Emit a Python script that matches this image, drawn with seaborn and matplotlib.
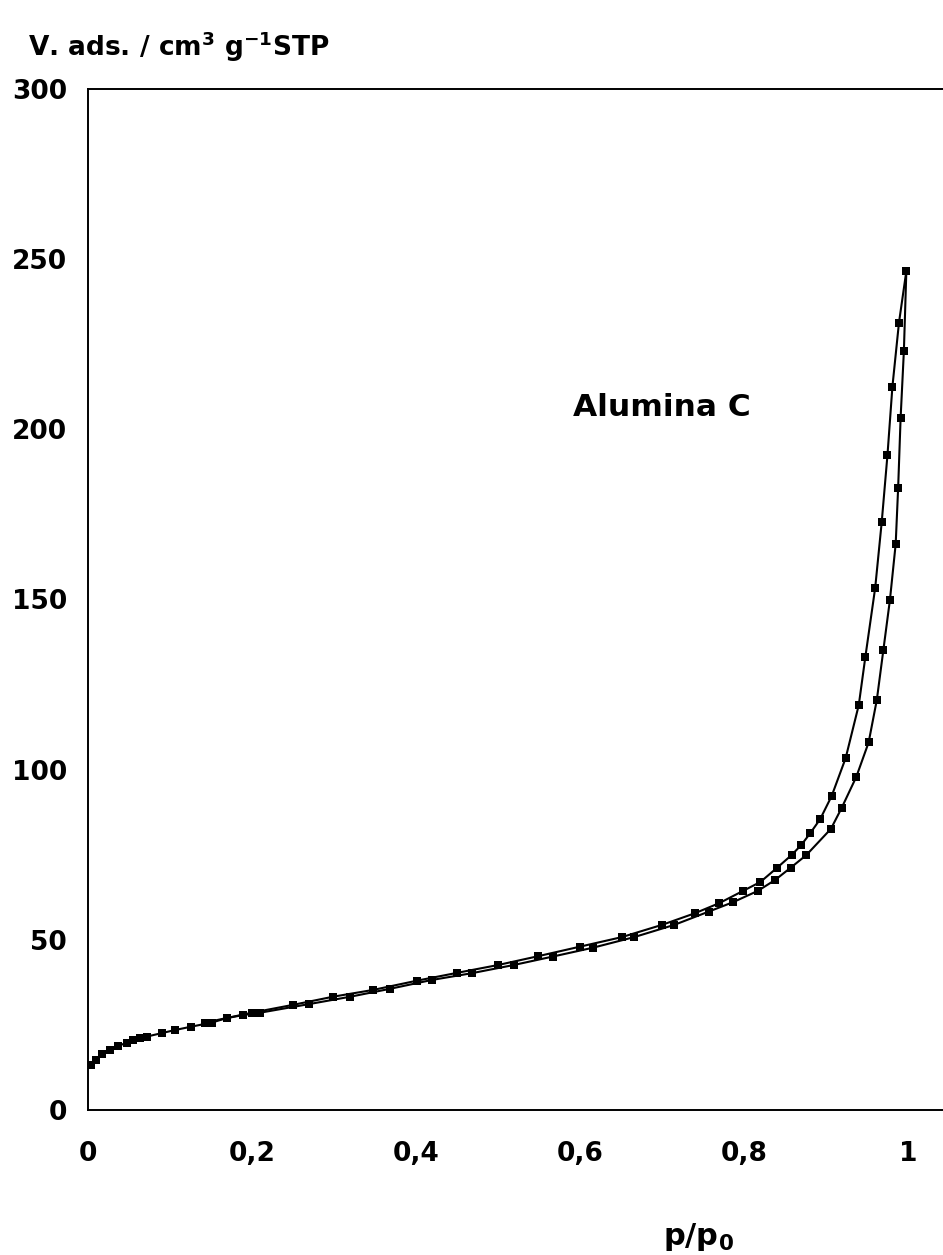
import matplotlib
matplotlib.use("Agg")
import matplotlib.pyplot as plt
import seaborn as sns
import pandas as pd

# Adsorption branch (p/p0, V ads)
ads_p = [0.004, 0.010, 0.017, 0.027, 0.037, 0.047, 0.055, 0.063, 0.072, 0.090,
         0.106, 0.126, 0.151, 0.169, 0.189, 0.210, 0.269, 0.320, 0.368, 0.419,
         0.468, 0.519, 0.567, 0.616, 0.666, 0.715, 0.757, 0.787, 0.817, 0.838,
         0.857, 0.876, 0.906, 0.919, 0.937, 0.952, 0.962, 0.970, 0.978, 0.985,
         0.988, 0.991, 0.995, 0.998]
ads_v = [13.2, 14.7, 16.4, 17.6, 18.8, 19.8, 20.6, 21.1, 21.6, 22.6,
         23.5, 24.5, 25.7, 27.0, 27.9, 28.6, 31.1, 33.3, 35.6, 38.2,
         40.2, 42.6, 45.1, 47.7, 50.8, 54.4, 58.3, 61.1, 64.4, 67.6,
         71.2, 74.9, 82.6, 88.7, 97.9, 108.0, 120.5, 135.2, 149.9, 166.3,
         182.8, 203.3, 223.0, 246.5]

# Desorption branch
des_p = [0.998, 0.989, 0.981, 0.975, 0.968, 0.960, 0.948, 0.940, 0.924, 0.907,
         0.893, 0.881, 0.870, 0.858, 0.840, 0.820, 0.799, 0.770, 0.740, 0.700,
         0.651, 0.600, 0.549, 0.500, 0.450, 0.401, 0.348, 0.299, 0.250, 0.200,
         0.143]
des_v = [246.5, 231.3, 212.5, 192.5, 172.8, 153.4, 133.1, 119.0, 103.4, 92.3,
         85.5, 81.4, 77.9, 74.9, 71.1, 67.0, 64.4, 60.8, 57.8, 54.4,
         50.8, 48.0, 45.2, 42.6, 40.3, 38.0, 35.3, 33.3, 30.9, 28.6,
         25.7]

x_ticks = [0, 0.2, 0.4, 0.6, 0.8, 1.0]
x_tick_labels = ["0", "0,2", "0,4", "0,6", "0,8", "1"]
y_ticks = [0, 50, 100, 150, 200, 250, 300]
y_tick_labels = ["0", "50", "100", "150", "200", "250", "300"]

sns.set_style("white")
plt.rcParams["font.family"] = ["DejaVu Sans"]
plt.rcParams["font.weight"] = "bold"
plt.rcParams["text.color"] = "black"
plt.rcParams["mathtext.fontset"] = "custom"
plt.rcParams["mathtext.rm"] = "DejaVu Sans:bold"
plt.rcParams["mathtext.it"] = "DejaVu Sans:bold"
plt.rcParams["mathtext.bf"] = "DejaVu Sans:bold"

fig = plt.figure(figsize=(9.43, 12.55), dpi=100)
ax = fig.add_axes([0.0933, 0.1155, 0.9067, 0.8137])

ads_df = pd.DataFrame({"p": ads_p, "v": ads_v})
des_df = pd.DataFrame({"p": des_p, "v": des_v})
for df in (ads_df, des_df):
    sns.lineplot(data=df, x="p", y="v", sort=False, estimator=None, ax=ax,
                 color="black", linewidth=1.5, marker="s", markersize=6.3,
                 markeredgewidth=0, markerfacecolor="black")

ax.set_xlim(0, 1.0427)
ax.set_ylim(0, 300)
ax.set_xticks(x_ticks)
ax.set_xticklabels(x_tick_labels)
ax.set_yticks(y_ticks)
ax.set_yticklabels(y_tick_labels)
ax.tick_params(axis="both", direction="in", length=10, width=1.3,
               labelsize=19, colors="black")
ax.tick_params(axis="x", pad=22)
ax.tick_params(axis="y", pad=15)
for lab in ax.get_xticklabels() + ax.get_yticklabels():
    lab.set_fontweight("bold")

for side in ("left", "bottom", "top"):
    ax.spines[side].set_visible(True)
    ax.spines[side].set_color("black")
    ax.spines[side].set_linewidth(1.4)
ax.spines["right"].set_visible(False)

ax.set_xlabel("")
ax.set_ylabel("")

fig.text(0.03, 0.963, r"V. ads. / cm$^{3}$ g$^{-1}$STP", fontsize=19,
         fontweight="bold", ha="left", va="center", color="black")
fig.text(0.741, 0.014, r"p/p$_{0}$", fontsize=22, fontweight="bold",
         ha="center", va="center", color="black")
ax.text(0.591, 206.5, "Alumina C", fontsize=22.5, fontweight="bold",
        ha="left", va="center", color="black")

fig.savefig("out.png", dpi=100)
